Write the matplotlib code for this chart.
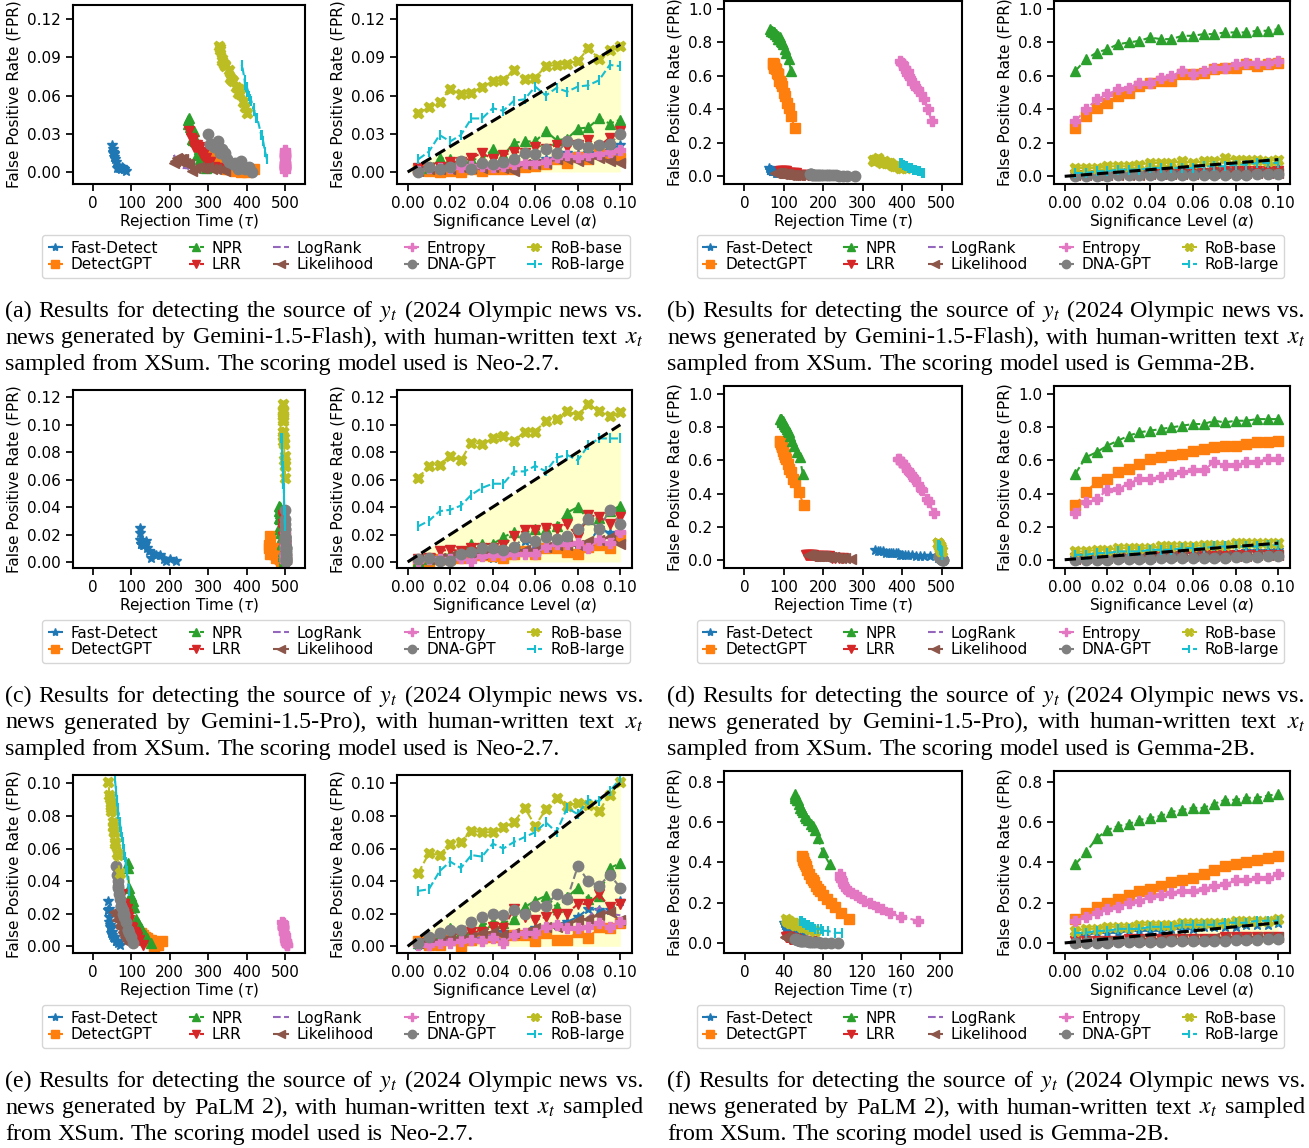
import matplotlib; matplotlib.use('agg')
import matplotlib.pyplot as plt
from matplotlib.lines import Line2D
from matplotlib.ticker import FormatStrFormatter

W, H = 1309, 1148

ALPHAS = [0.005, 0.010, 0.015, 0.020, 0.025, 0.030, 0.035, 0.040, 0.045, 0.050,
          0.055, 0.060, 0.065, 0.070, 0.075, 0.080, 0.085, 0.090, 0.095, 0.100]

METHODS = ['Fast-Detect', 'DetectGPT', 'NPR', 'LRR', 'LogRank',
           'Likelihood', 'Entropy', 'DNA-GPT', 'RoB-base', 'RoB-large']
COLORS = ['tab:blue', 'tab:orange', 'tab:green', 'tab:red', 'tab:purple',
          'tab:brown', 'tab:pink', 'tab:gray', 'tab:olive', 'tab:cyan']
MARKERS = ['*', 's', '^', 'v', '', '<', 'P', 'o', 'X', '|']

# (a) Gemini-1.5-Flash, Neo-2.7
FPR_A = {
    'Fast-Detect': [0.001, 0.002, 0.002, 0.003, 0.004, 0.002, 0.003, 0.003, 0.004, 0.004, 0.003, 0.008, 0.010, 0.012, 0.015, 0.014, 0.015, 0.016, 0.018, 0.021],
    'DetectGPT': [0.002, 0.001, 0.000, 0.001, 0.000, 0.002, 0.001, 0.002, 0.002, 0.002, 0.004, 0.005, 0.006, 0.010, 0.007, 0.012, 0.010, 0.015, 0.013, 0.011],
    'NPR': [0.004, 0.003, 0.011, 0.010, 0.008, 0.010, 0.010, 0.018, 0.013, 0.023, 0.024, 0.024, 0.032, 0.025, 0.026, 0.034, 0.035, 0.042, 0.038, 0.041],
    'LRR': [0.003, 0.003, 0.004, 0.008, 0.008, 0.011, 0.015, 0.010, 0.013, 0.016, 0.015, 0.020, 0.018, 0.021, 0.020, 0.021, 0.025, 0.020, 0.027, 0.032],
    'LogRank': [0.002, 0.003, 0.003, 0.004, 0.003, 0.004, 0.005, 0.005, 0.006, 0.006, 0.007, 0.009, 0.010, 0.011, 0.010, 0.010, 0.009, 0.013, 0.013, 0.014],
    'Likelihood': [0.001, 0.002, 0.002, 0.002, 0.004, 0.003, 0.003, 0.004, 0.003, 0.001, 0.006, 0.006, 0.007, 0.010, 0.010, 0.009, 0.010, 0.011, 0.009, 0.007],
    'Entropy': [0.001, 0.003, 0.003, 0.003, 0.004, 0.005, 0.005, 0.004, 0.005, 0.006, 0.007, 0.007, 0.008, 0.012, 0.013, 0.012, 0.013, 0.014, 0.016, 0.017],
    'DNA-GPT': [0.000, 0.004, 0.002, 0.004, 0.009, 0.002, 0.007, 0.006, 0.008, 0.010, 0.015, 0.014, 0.018, 0.015, 0.024, 0.022, 0.020, 0.021, 0.022, 0.030],
    'RoB-base': [0.046, 0.051, 0.055, 0.065, 0.061, 0.062, 0.067, 0.071, 0.072, 0.080, 0.073, 0.074, 0.083, 0.084, 0.085, 0.087, 0.097, 0.089, 0.096, 0.099],
    'RoB-large': [0.010, 0.016, 0.029, 0.024, 0.029, 0.042, 0.042, 0.050, 0.048, 0.056, 0.057, 0.067, 0.060, 0.066, 0.063, 0.067, 0.068, 0.072, 0.084, 0.083],
}
TAU_A = {
    'Fast-Detect': [85, 82, 80, 78, 75, 72, 70, 68, 66, 64, 62, 60, 58, 56, 55, 54, 53, 52, 51, 50],
    'DetectGPT': [420, 410, 400, 395, 385, 380, 370, 360, 355, 350, 345, 340, 330, 325, 320, 318, 315, 310, 305, 300],
    'NPR': [300, 295, 290, 285, 282, 280, 278, 275, 272, 270, 268, 265, 262, 260, 258, 255, 253, 250, 248, 247],
    'LRR': [330, 320, 315, 305, 300, 295, 290, 292, 285, 280, 282, 275, 276, 270, 268, 265, 260, 262, 255, 250],
    'LogRank': [250, 245, 240, 238, 235, 232, 230, 228, 226, 224, 222, 220, 218, 216, 215, 214, 213, 212, 211, 210],
    'Likelihood': [345, 335, 320, 310, 300, 290, 285, 275, 265, 258, 250, 245, 240, 235, 230, 225, 222, 218, 214, 210],
    'Entropy': [500, 500, 500, 500, 500, 500, 500, 500, 500, 500, 500, 500, 500, 500, 500, 500, 500, 500, 500, 500],
    'DNA-GPT': [415, 405, 395, 390, 385, 378, 370, 365, 355, 350, 345, 340, 335, 330, 325, 320, 315, 310, 305, 300],
    'RoB-base': [400, 395, 390, 380, 383, 378, 372, 365, 363, 355, 360, 358, 345, 343, 340, 337, 330, 335, 332, 328],
    'RoB-large': [453, 448, 440, 442, 438, 428, 425, 418, 420, 412, 410, 400, 405, 400, 402, 398, 396, 395, 388, 387],
}

# (b) Gemini-1.5-Flash, Gemma-2B
FPR_B = {
    'Fast-Detect': [0.02, 0.02, 0.02, 0.02, 0.02, 0.03, 0.03, 0.03, 0.03, 0.03, 0.03, 0.03, 0.03, 0.03, 0.04, 0.04, 0.04, 0.04, 0.04, 0.05],
    'DetectGPT': [0.29, 0.36, 0.41, 0.44, 0.48, 0.50, 0.54, 0.56, 0.57, 0.57, 0.61, 0.61, 0.62, 0.64, 0.65, 0.65, 0.67, 0.66, 0.67, 0.68],
    'NPR': [0.63, 0.70, 0.74, 0.76, 0.79, 0.80, 0.81, 0.83, 0.82, 0.82, 0.84, 0.84, 0.85, 0.85, 0.86, 0.86, 0.86, 0.87, 0.87, 0.88],
    'LRR': [0.01, 0.01, 0.01, 0.01, 0.01, 0.02, 0.02, 0.02, 0.02, 0.02, 0.02, 0.02, 0.02, 0.03, 0.03, 0.03, 0.03, 0.03, 0.03, 0.03],
    'LogRank': [0.005, 0.01, 0.01, 0.01, 0.01, 0.01, 0.015, 0.015, 0.015, 0.02, 0.02, 0.02, 0.02, 0.02, 0.02, 0.02, 0.025, 0.025, 0.025, 0.025],
    'Likelihood': [0.005, 0.005, 0.01, 0.01, 0.01, 0.01, 0.01, 0.015, 0.015, 0.015, 0.015, 0.015, 0.02, 0.02, 0.02, 0.02, 0.02, 0.02, 0.02, 0.02],
    'Entropy': [0.33, 0.40, 0.46, 0.49, 0.52, 0.53, 0.56, 0.56, 0.59, 0.60, 0.63, 0.61, 0.63, 0.65, 0.65, 0.67, 0.68, 0.68, 0.68, 0.69],
    'DNA-GPT': [0.0, 0.0, 0.0, 0.0, 0.005, 0.005, 0.005, 0.005, 0.005, 0.005, 0.01, 0.01, 0.01, 0.01, 0.01, 0.01, 0.01, 0.015, 0.015, 0.015],
    'RoB-base': [0.05, 0.05, 0.05, 0.06, 0.06, 0.06, 0.07, 0.08, 0.08, 0.08, 0.09, 0.08, 0.09, 0.09, 0.11, 0.10, 0.10, 0.10, 0.09, 0.10],
    'RoB-large': [0.02, 0.02, 0.03, 0.03, 0.04, 0.04, 0.04, 0.05, 0.05, 0.05, 0.05, 0.05, 0.06, 0.06, 0.06, 0.07, 0.07, 0.08, 0.08, 0.08],
}
TAU_B = {
    'Fast-Detect': [90, 88, 85, 83, 80, 78, 76, 75, 74, 73, 72, 71, 70, 69, 68, 67, 66, 65, 64, 62],
    'DetectGPT': [127, 118, 112, 108, 103, 100, 96, 92, 90, 88, 86, 84, 82, 80, 78, 76, 75, 74, 73, 72],
    'NPR': [118, 112, 105, 102, 98, 95, 92, 90, 88, 86, 84, 82, 80, 78, 76, 74, 72, 70, 68, 66],
    'LRR': [160, 150, 145, 140, 135, 130, 125, 122, 118, 115, 112, 110, 108, 105, 102, 100, 98, 95, 92, 90],
    'LogRank': [130, 125, 120, 115, 110, 108, 105, 102, 100, 98, 96, 94, 92, 90, 88, 86, 84, 82, 80, 78],
    'Likelihood': [150, 142, 135, 128, 122, 118, 114, 110, 106, 102, 99, 96, 93, 90, 88, 86, 84, 82, 80, 78],
    'Entropy': [475, 465, 455, 448, 440, 435, 430, 425, 420, 418, 415, 412, 410, 408, 405, 402, 400, 398, 397, 395],
    'DNA-GPT': [280, 260, 250, 240, 232, 225, 218, 212, 206, 200, 195, 190, 186, 182, 178, 175, 172, 170, 168, 165],
    'RoB-base': [410, 400, 395, 390, 385, 380, 375, 370, 365, 360, 355, 350, 345, 342, 338, 335, 332, 330, 328, 325],
    'RoB-large': [455, 450, 445, 440, 435, 430, 428, 425, 422, 420, 418, 415, 412, 410, 408, 405, 402, 400, 398, 395],
}

# (c) Gemini-1.5-Pro, Neo-2.7
FPR_C = {
    'Fast-Detect': [0.001, 0.002, 0.001, 0.002, 0.005, 0.005, 0.006, 0.003, 0.008, 0.010, 0.015, 0.013, 0.012, 0.012, 0.015, 0.013, 0.013, 0.025, 0.021, 0.016],
    'DetectGPT': [0.000, 0.001, 0.002, 0.002, 0.003, 0.004, 0.005, 0.004, 0.003, 0.006, 0.008, 0.006, 0.010, 0.010, 0.007, 0.006, 0.011, 0.012, 0.010, 0.019],
    'NPR': [0.001, 0.002, 0.004, 0.006, 0.008, 0.013, 0.013, 0.013, 0.018, 0.022, 0.021, 0.024, 0.024, 0.026, 0.036, 0.040, 0.031, 0.032, 0.037, 0.041],
    'LRR': [0.002, 0.003, 0.008, 0.009, 0.008, 0.010, 0.010, 0.010, 0.012, 0.019, 0.023, 0.023, 0.025, 0.024, 0.028, 0.018, 0.034, 0.033, 0.028, 0.033],
    'LogRank': [0.002, 0.003, 0.004, 0.005, 0.006, 0.006, 0.007, 0.007, 0.008, 0.008, 0.009, 0.010, 0.011, 0.012, 0.012, 0.013, 0.014, 0.016, 0.018, 0.020],
    'Likelihood': [0.002, 0.002, 0.003, 0.004, 0.005, 0.005, 0.006, 0.007, 0.007, 0.008, 0.009, 0.009, 0.011, 0.012, 0.012, 0.012, 0.015, 0.016, 0.018, 0.013],
    'Entropy': [0.001, 0.002, 0.002, 0.002, 0.003, 0.001, 0.004, 0.005, 0.005, 0.006, 0.006, 0.006, 0.011, 0.013, 0.013, 0.014, 0.010, 0.016, 0.014, 0.022],
    'DNA-GPT': [0.002, 0.003, 0.001, 0.001, 0.006, 0.007, 0.010, 0.010, 0.009, 0.011, 0.018, 0.015, 0.018, 0.017, 0.019, 0.024, 0.031, 0.024, 0.038, 0.028],
    'RoB-base': [0.061, 0.070, 0.071, 0.077, 0.074, 0.087, 0.086, 0.090, 0.092, 0.088, 0.095, 0.095, 0.103, 0.104, 0.110, 0.107, 0.115, 0.110, 0.106, 0.109],
    'RoB-large': [0.026, 0.030, 0.037, 0.038, 0.041, 0.049, 0.054, 0.057, 0.057, 0.066, 0.066, 0.070, 0.066, 0.076, 0.078, 0.074, 0.085, 0.090, 0.090, 0.090],
}
TAU_C = {
    'Fast-Detect': [215, 200, 190, 185, 175, 165, 160, 150, 145, 140, 138, 135, 132, 130, 128, 126, 125, 123, 122, 122],
    'DetectGPT': [492, 490, 488, 486, 484, 482, 480, 478, 476, 474, 472, 470, 468, 466, 464, 462, 460, 458, 458, 460],
    'NPR': [498, 497, 496, 495, 494, 493, 492, 492, 491, 490, 489, 489, 488, 488, 487, 486, 486, 485, 485, 484],
    'LRR': [500, 500, 499, 499, 499, 498, 498, 498, 497, 497, 497, 496, 496, 496, 495, 495, 495, 494, 494, 494],
    'LogRank': [501, 501, 500, 500, 500, 500, 500, 500, 499, 499, 499, 499, 499, 498, 498, 498, 498, 498, 497, 497],
    'Likelihood': [502, 502, 502, 501, 501, 501, 501, 501, 500, 500, 500, 500, 500, 500, 499, 499, 499, 499, 499, 499],
    'Entropy': [501, 501, 501, 501, 500, 501, 500, 500, 500, 500, 500, 500, 500, 500, 500, 500, 500, 499, 500, 499],
    'DNA-GPT': [503, 503, 503, 503, 502, 502, 502, 502, 502, 502, 501, 501, 501, 501, 501, 500, 500, 500, 500, 500],
    'RoB-base': [500, 500, 499, 499, 498, 498, 497, 497, 496, 496, 496, 495, 495, 495, 494, 494, 494, 494, 495, 495],
    'RoB-large': [500, 499, 499, 498, 498, 497, 497, 496, 496, 495, 495, 494, 494, 493, 493, 492, 492, 491, 491, 490],
}

# (d) Gemini-1.5-Pro, Gemma-2B
FPR_D = {
    'Fast-Detect': [0.01, 0.02, 0.02, 0.02, 0.02, 0.03, 0.03, 0.03, 0.03, 0.03, 0.04, 0.04, 0.04, 0.04, 0.04, 0.04, 0.05, 0.05, 0.05, 0.06],
    'DetectGPT': [0.33, 0.41, 0.47, 0.49, 0.53, 0.55, 0.58, 0.61, 0.62, 0.63, 0.64, 0.66, 0.67, 0.68, 0.69, 0.69, 0.70, 0.71, 0.71, 0.72],
    'NPR': [0.52, 0.62, 0.65, 0.69, 0.72, 0.75, 0.77, 0.78, 0.79, 0.80, 0.81, 0.82, 0.82, 0.84, 0.83, 0.84, 0.84, 0.85, 0.85, 0.85],
    'LRR': [0.01, 0.01, 0.01, 0.01, 0.02, 0.02, 0.02, 0.02, 0.02, 0.02, 0.02, 0.02, 0.03, 0.03, 0.03, 0.03, 0.03, 0.03, 0.03, 0.03],
    'LogRank': [0.005, 0.005, 0.01, 0.01, 0.01, 0.01, 0.015, 0.015, 0.015, 0.015, 0.02, 0.02, 0.02, 0.02, 0.02, 0.02, 0.025, 0.025, 0.025, 0.025],
    'Likelihood': [0.005, 0.01, 0.01, 0.01, 0.015, 0.015, 0.015, 0.015, 0.02, 0.02, 0.02, 0.02, 0.02, 0.025, 0.025, 0.025, 0.025, 0.03, 0.03, 0.03],
    'Entropy': [0.28, 0.35, 0.37, 0.42, 0.43, 0.46, 0.49, 0.49, 0.50, 0.52, 0.53, 0.54, 0.54, 0.59, 0.57, 0.57, 0.59, 0.59, 0.61, 0.61],
    'DNA-GPT': [0.0, 0.0, 0.0, 0.0, 0.005, 0.005, 0.005, 0.005, 0.01, 0.01, 0.01, 0.01, 0.01, 0.01, 0.01, 0.015, 0.015, 0.015, 0.02, 0.02],
    'RoB-base': [0.05, 0.05, 0.06, 0.06, 0.07, 0.07, 0.07, 0.07, 0.08, 0.08, 0.08, 0.08, 0.09, 0.09, 0.09, 0.10, 0.10, 0.10, 0.10, 0.10],
    'RoB-large': [0.03, 0.03, 0.04, 0.04, 0.05, 0.05, 0.05, 0.06, 0.06, 0.06, 0.07, 0.07, 0.07, 0.08, 0.08, 0.08, 0.08, 0.08, 0.09, 0.09],
}
TAU_D = {
    'Fast-Detect': [490, 470, 455, 445, 435, 425, 415, 408, 400, 395, 390, 385, 378, 372, 366, 360, 352, 345, 338, 330],
    'DetectGPT': [150, 138, 128, 123, 118, 114, 110, 106, 104, 102, 100, 98, 97, 96, 95, 94, 93, 92, 91, 90],
    'NPR': [148, 140, 132, 125, 120, 115, 112, 110, 107, 105, 103, 101, 99, 97, 96, 95, 94, 93, 92, 90],
    'LRR': [250, 240, 230, 222, 215, 208, 202, 196, 190, 186, 182, 178, 175, 172, 169, 166, 163, 160, 158, 156],
    'LogRank': [240, 230, 222, 215, 208, 202, 196, 190, 186, 182, 178, 175, 172, 169, 166, 163, 160, 158, 156, 155],
    'Likelihood': [270, 255, 245, 235, 228, 220, 214, 208, 202, 198, 194, 190, 186, 182, 178, 175, 172, 168, 165, 160],
    'Entropy': [480, 468, 462, 450, 447, 440, 432, 430, 428, 422, 418, 414, 412, 400, 405, 404, 398, 397, 392, 390],
    'DNA-GPT': [505, 504, 503, 502, 501, 500, 500, 499, 499, 498, 498, 497, 497, 496, 496, 495, 495, 494, 494, 493],
    'RoB-base': [500, 499, 499, 498, 498, 497, 497, 496, 496, 495, 495, 494, 494, 493, 493, 492, 492, 491, 491, 490],
    'RoB-large': [502, 501, 501, 500, 500, 499, 499, 498, 498, 497, 497, 496, 496, 495, 495, 494, 494, 493, 493, 492],
}

# (e) PaLM 2, Neo-2.7
FPR_E = {
    'Fast-Detect': [0.001, 0.002, 0.003, 0.003, 0.003, 0.005, 0.006, 0.006, 0.009, 0.007, 0.008, 0.011, 0.012, 0.013, 0.015, 0.018, 0.023, 0.022, 0.022, 0.028],
    'DetectGPT': [0.003, 0.001, 0.001, 0.004, 0.000, 0.004, 0.005, 0.006, 0.005, 0.007, 0.007, 0.003, 0.008, 0.004, 0.004, 0.009, 0.005, 0.012, 0.011, 0.014],
    'NPR': [0.002, 0.005, 0.007, 0.011, 0.009, 0.010, 0.013, 0.015, 0.014, 0.017, 0.024, 0.028, 0.031, 0.024, 0.030, 0.036, 0.029, 0.031, 0.048, 0.051],
    'LRR': [0.001, 0.004, 0.006, 0.008, 0.007, 0.009, 0.009, 0.012, 0.011, 0.023, 0.018, 0.016, 0.018, 0.020, 0.020, 0.026, 0.026, 0.032, 0.024, 0.026],
    'LogRank': [0.002, 0.003, 0.004, 0.004, 0.005, 0.004, 0.006, 0.007, 0.003, 0.008, 0.008, 0.010, 0.012, 0.012, 0.014, 0.016, 0.018, 0.024, 0.020, 0.019],
    'Likelihood': [0.002, 0.003, 0.004, 0.006, 0.005, 0.006, 0.008, 0.009, 0.007, 0.008, 0.009, 0.011, 0.012, 0.012, 0.013, 0.016, 0.017, 0.019, 0.021, 0.016],
    'Entropy': [0.001, 0.001, 0.002, 0.002, 0.003, 0.004, 0.003, 0.005, 0.002, 0.007, 0.008, 0.008, 0.012, 0.013, 0.011, 0.011, 0.012, 0.014, 0.012, 0.015],
    'DNA-GPT': [0.002, 0.006, 0.008, 0.010, 0.010, 0.015, 0.018, 0.020, 0.019, 0.022, 0.020, 0.025, 0.025, 0.032, 0.029, 0.049, 0.040, 0.037, 0.044, 0.036],
    'RoB-base': [0.045, 0.057, 0.056, 0.063, 0.064, 0.071, 0.070, 0.070, 0.073, 0.076, 0.085, 0.074, 0.084, 0.091, 0.086, 0.088, 0.087, 0.083, 0.093, 0.101],
    'RoB-large': [0.034, 0.035, 0.046, 0.052, 0.048, 0.056, 0.055, 0.063, 0.060, 0.064, 0.067, 0.070, 0.076, 0.070, 0.085, 0.081, 0.090, 0.089, 0.095, 0.103],
}
TAU_E = {
    'Fast-Detect': [70, 65, 62, 60, 60, 55, 55, 52, 50, 50, 48, 46, 45, 44, 43, 42, 41, 40, 40, 40],
    'DetectGPT': [180, 170, 165, 150, 160, 145, 140, 135, 138, 130, 128, 140, 125, 135, 135, 115, 130, 110, 108, 100],
    'NPR': [150, 140, 135, 125, 128, 126, 120, 115, 118, 112, 108, 105, 100, 105, 100, 95, 98, 96, 90, 90],
    'LRR': [130, 120, 115, 110, 112, 108, 105, 100, 102, 88, 92, 95, 90, 88, 88, 82, 82, 75, 80, 78],
    'LogRank': [100, 95, 92, 90, 88, 88, 85, 82, 90, 80, 78, 75, 72, 72, 70, 68, 65, 62, 64, 65],
    'Likelihood': [95, 92, 88, 85, 86, 84, 80, 78, 82, 80, 78, 74, 72, 72, 70, 66, 64, 60, 56, 62],
    'Entropy': [505, 504, 503, 502, 502, 501, 502, 500, 502, 499, 498, 498, 496, 495, 496, 496, 495, 494, 495, 492],
    'DNA-GPT': [105, 100, 95, 92, 90, 85, 82, 80, 80, 78, 78, 72, 72, 68, 70, 60, 64, 65, 62, 64],
    'RoB-base': [70, 62, 64, 58, 57, 54, 55, 55, 53, 52, 48, 53, 49, 45, 47, 46, 46, 48, 43, 40],
    'RoB-large': [95, 93, 88, 85, 87, 82, 83, 78, 80, 77, 75, 73, 70, 72, 64, 66, 62, 62, 60, 57],
}

# (f) PaLM 2, Gemma-2B
FPR_F = {
    'Fast-Detect': [0.04, 0.04, 0.05, 0.05, 0.05, 0.06, 0.06, 0.06, 0.06, 0.07, 0.07, 0.07, 0.08, 0.08, 0.08, 0.08, 0.09, 0.09, 0.09, 0.10],
    'DetectGPT': [0.12, 0.15, 0.18, 0.20, 0.22, 0.24, 0.26, 0.27, 0.28, 0.30, 0.31, 0.32, 0.34, 0.36, 0.38, 0.39, 0.40, 0.41, 0.42, 0.43],
    'NPR': [0.39, 0.45, 0.52, 0.56, 0.58, 0.59, 0.61, 0.62, 0.63, 0.65, 0.66, 0.67, 0.67, 0.69, 0.71, 0.71, 0.72, 0.72, 0.73, 0.74],
    'LRR': [0.01, 0.01, 0.01, 0.01, 0.01, 0.02, 0.02, 0.02, 0.02, 0.02, 0.02, 0.02, 0.02, 0.02, 0.03, 0.03, 0.03, 0.03, 0.03, 0.03],
    'LogRank': [0.005, 0.005, 0.01, 0.01, 0.01, 0.01, 0.015, 0.015, 0.015, 0.015, 0.02, 0.02, 0.02, 0.02, 0.02, 0.025, 0.025, 0.025, 0.025, 0.025],
    'Likelihood': [0.005, 0.01, 0.01, 0.01, 0.015, 0.015, 0.015, 0.015, 0.02, 0.02, 0.02, 0.02, 0.02, 0.025, 0.025, 0.025, 0.025, 0.03, 0.03, 0.03],
    'Entropy': [0.11, 0.13, 0.15, 0.17, 0.18, 0.20, 0.21, 0.23, 0.24, 0.25, 0.26, 0.26, 0.27, 0.28, 0.29, 0.31, 0.31, 0.32, 0.32, 0.34],
    'DNA-GPT': [0.0, 0.0, 0.0, 0.0, 0.005, 0.005, 0.005, 0.005, 0.005, 0.01, 0.01, 0.01, 0.01, 0.01, 0.01, 0.015, 0.015, 0.015, 0.02, 0.02],
    'RoB-base': [0.06, 0.07, 0.07, 0.08, 0.08, 0.08, 0.09, 0.09, 0.09, 0.09, 0.10, 0.10, 0.10, 0.10, 0.10, 0.11, 0.11, 0.11, 0.11, 0.12],
    'RoB-large': [0.05, 0.05, 0.06, 0.06, 0.07, 0.07, 0.07, 0.08, 0.08, 0.08, 0.09, 0.09, 0.09, 0.09, 0.10, 0.10, 0.10, 0.11, 0.11, 0.11],
}
TAU_F = {
    'Fast-Detect': [60, 57, 55, 53, 52, 51, 50, 49, 48, 47, 46, 45, 44, 43, 43, 42, 42, 41, 41, 40],
    'DetectGPT': [107, 98, 92, 88, 84, 80, 77, 75, 73, 71, 70, 68, 66, 64, 63, 62, 61, 60, 60, 59],
    'NPR': [87, 80, 75, 72, 70, 68, 65, 63, 62, 60, 59, 58, 57, 56, 55, 54, 53, 52, 51, 51],
    'LRR': [70, 65, 60, 57, 55, 53, 52, 51, 50, 49, 48, 47, 46, 46, 45, 44, 44, 43, 43, 42],
    'LogRank': [80, 75, 70, 67, 65, 63, 61, 60, 58, 57, 56, 55, 54, 53, 52, 51, 50, 49, 48, 47],
    'Likelihood': [65, 60, 57, 55, 53, 51, 50, 49, 48, 47, 46, 45, 45, 44, 44, 43, 43, 42, 42, 41],
    'Entropy': [177, 160, 148, 140, 135, 128, 122, 117, 114, 110, 107, 106, 104, 102, 100, 99, 98, 98, 97, 97],
    'DNA-GPT': [95, 88, 82, 78, 75, 72, 70, 68, 66, 64, 62, 60, 59, 58, 57, 56, 55, 54, 53, 52],
    'RoB-base': [72, 68, 66, 63, 61, 59, 57, 55, 53, 52, 50, 49, 48, 47, 46, 45, 44, 43, 43, 42],
    'RoB-large': [99, 92, 85, 80, 78, 75, 72, 70, 68, 67, 66, 65, 64, 63, 62, 61, 60, 59, 58, 57],
}

CAPTIONS = {
    'a': ['(a) Results for detecting the source of $y_t$ (2024 Olympic news vs.',
          'news generated by Gemini-1.5-Flash), with human-written text $x_t$',
          'sampled from XSum. The scoring model used is Neo-2.7.'],
    'b': ['(b) Results for detecting the source of $y_t$ (2024 Olympic news vs.',
          'news generated by Gemini-1.5-Flash), with human-written text $x_t$',
          'sampled from XSum. The scoring model used is Gemma-2B.'],
    'c': ['(c) Results for detecting the source of $y_t$ (2024 Olympic news vs.',
          'news generated by Gemini-1.5-Pro), with human-written text $x_t$',
          'sampled from XSum. The scoring model used is Neo-2.7.'],
    'd': ['(d) Results for detecting the source of $y_t$ (2024 Olympic news vs.',
          'news generated by Gemini-1.5-Pro), with human-written text $x_t$',
          'sampled from XSum. The scoring model used is Gemma-2B.'],
    'e': ['(e) Results for detecting the source of $y_t$ (2024 Olympic news vs.',
          'news generated by PaLM 2), with human-written text $x_t$ sampled',
          'from XSum. The scoring model used is Neo-2.7.'],
    'f': ['(f) Results for detecting the source of $y_t$ (2024 Olympic news vs.',
          'news generated by PaLM 2), with human-written text $x_t$ sampled',
          'from XSum. The scoring model used is Gemma-2B.'],
}

FS = 11
CAP_FS = 17.3
plt.rcParams['font.family'] = 'DejaVu Sans'
plt.rcParams['font.size'] = FS

fig = plt.figure(figsize=(W / 100, H / 100), dpi=100)
renderer = fig.canvas.get_renderer()


def px_axes(x0, y0, x1, y1):
    return fig.add_axes([x0 / W, 1 - y1 / H, (x1 - x0) / W, (y1 - y0) / H])


def style_axes(ax, ylim, yticks, yfmt):
    for s in ax.spines.values():
        s.set_linewidth(1.5)
    ax.tick_params(labelsize=FS, length=5, width=1.25)
    ax.set_ylim(ylim)
    ax.set_yticks(yticks)
    ax.yaxis.set_major_formatter(FormatStrFormatter(yfmt))
    ax.set_ylabel('False Positive Rate (FPR)', fontsize=FS)


def line_kw(c, mk, ms=7.5):
    return dict(color=c, marker=mk, linestyle='--', lw=1.5, markersize=ms,
                markeredgewidth=1.5 if mk == '|' else 1.0)


def justified_line(x0, x1, y, text, justify=True):
    words = text.split(' ')
    arts = [fig.text(0, 1 - y / H, w, fontsize=CAP_FS, family='Liberation Serif',
                     math_fontfamily='stix', va='baseline', ha='left')
            for w in words]
    widths = [a.get_window_extent(renderer).width for a in arts]
    if justify and len(words) > 1:
        gap = (x1 - x0 - sum(widths)) / (len(words) - 1)
    else:
        gap = CAP_FS * 100 / 72 * 0.25
    x = x0
    for a, w in zip(arts, widths):
        a.set_x(x / W)
        x += w + gap


def draw_pair(key, fpr, tau, col, row, ylim, yticks, yfmt, left_xlim, left_xticks):
    dy = [0, 385, 770][row]
    if col == 0:
        xl, xr, top = (73, 305), (397, 632), 5
    else:
        xl, xr, top = (724, 962), (1054, 1290), 1
    bottom = 184 if row == 0 else 183
    ax1 = px_axes(xl[0], top + dy, xl[1], bottom + dy)
    ax2 = px_axes(xr[0], top + dy, xr[1], bottom + dy)

    for m, c, mk in zip(METHODS, COLORS, MARKERS):
        ax1.plot(tau[m], fpr[m], **line_kw(c, mk))

    ax2.fill_between([0, 0.1], [0, 0], [0, 0.1], color='yellow', alpha=0.2,
                     linewidth=0, zorder=0)
    for m, c, mk in zip(METHODS, COLORS, MARKERS):
        ax2.plot(ALPHAS, fpr[m], **line_kw(c, mk))
    ax2.plot([0, 0.1], [0, 0.1], color='black', linestyle='--', lw=2.2, zorder=5)

    style_axes(ax1, ylim, yticks, yfmt)
    ax1.set_xlim(left_xlim)
    ax1.set_xticks(left_xticks)
    ax1.set_xlabel(r'Rejection Time ($\tau$)', fontsize=FS, labelpad=1)

    style_axes(ax2, ylim, yticks, yfmt)
    ax2.set_xlim(-0.005, 0.1055)
    ax2.set_xticks([0.0, 0.02, 0.04, 0.06, 0.08, 0.1])
    ax2.xaxis.set_major_formatter(FormatStrFormatter('%.2f'))
    ax2.set_xlabel(r'Significance Level ($\alpha$)', fontsize=FS, labelpad=1)

    # legend shared by the pair
    handles = [Line2D([], [], **line_kw(c, mk, ms=6)) for c, mk in zip(COLORS, MARKERS)]
    cx = (40 + 632) / 2 if col == 0 else (691 + 1290) / 2
    cy = 256.5 + dy
    fig.legend(handles, METHODS, ncol=5, loc='center',
               bbox_to_anchor=(cx / W, 1 - cy / H), fontsize=FS,
               handlelength=1.0, handletextpad=0.5, columnspacing=2.0,
               labelspacing=0.1, borderpad=0.35, frameon=True)

    # caption
    x0 = 5 if col == 0 else 667
    x1 = 643 if col == 0 else 1305
    for i, line in enumerate(CAPTIONS[key]):
        justified_line(x0, x1, 317 + dy + 26.5 * i, line, justify=(i < 2))


LEFT_T = [0, 100, 200, 300, 400, 500]
draw_pair('a', FPR_A, TAU_A, 0, 0, (-0.0094, 0.131), [0, 0.03, 0.06, 0.09, 0.12], '%.2f', (-52, 552), LEFT_T)
draw_pair('b', FPR_B, TAU_B, 1, 0, (-0.046, 1.048), [0, 0.2, 0.4, 0.6, 0.8, 1.0], '%.1f', (-52, 552), LEFT_T)
draw_pair('c', FPR_C, TAU_C, 0, 1, (-0.0044, 0.1253), [0, 0.02, 0.04, 0.06, 0.08, 0.10, 0.12], '%.2f', (-52, 552), LEFT_T)
draw_pair('d', FPR_D, TAU_D, 1, 1, (-0.05, 1.05), [0, 0.2, 0.4, 0.6, 0.8, 1.0], '%.1f', (-52, 552), LEFT_T)
draw_pair('e', FPR_E, TAU_E, 0, 2, (-0.0041, 0.1051), [0, 0.02, 0.04, 0.06, 0.08, 0.10], '%.2f', (-52, 552), LEFT_T)
draw_pair('f', FPR_F, TAU_F, 1, 2, (-0.05, 0.853), [0, 0.2, 0.4, 0.6, 0.8], '%.1f', (-21, 222), [0, 40, 80, 120, 160, 200])

fig.savefig('out.png', dpi=100)
